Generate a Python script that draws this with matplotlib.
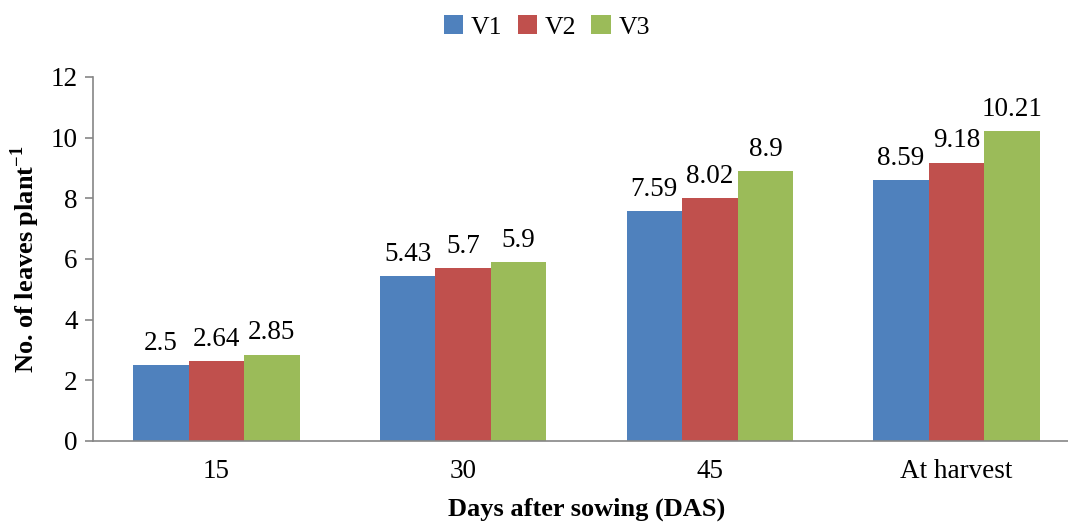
import numpy as np
import matplotlib.pyplot as plt

plt.rcParams['font.family'] = ['Liberation Serif', 'DejaVu Serif']
plt.rcParams['mathtext.fontset'] = 'custom'
plt.rcParams['mathtext.rm'] = 'Liberation Serif'
plt.rcParams['mathtext.bf'] = 'Liberation Serif:bold'

# 資料
stages = ['15', '30', '45', 'At harvest']
v1 = [2.5, 5.43, 7.59, 8.59]
v2 = [2.64, 5.7, 8.02, 9.18]
v3 = [2.85, 5.9, 8.9, 10.21]
series_names = ['V1', 'V2', 'V3']
colors = ['#4F81BD', '#C0504D', '#9BBB59']

fig = plt.figure(figsize=(10.68, 5.24), dpi=100)
ax = fig.add_axes([93/1068, 83/524, (1080-93)/1068, (441-77)/524])

x = np.arange(len(stages))
w = 0.225
for i, (vals, name, c) in enumerate(zip([v1, v2, v3], series_names, colors)):
    pos = x + (i-1)*w
    ax.bar(pos, vals, width=w, color=c, label=name)
    for p, v in zip(pos, vals):
        ax.text(p, v + 0.3, f'{v:g}', ha='center', va='bottom', fontsize=19.5)

ax.set_xlim(-0.5, 3.5)
ax.set_ylim(0, 12)
ax.set_yticks(range(0, 13, 2))
ax.set_xticks(x)
ax.set_xticklabels(stages)
ax.tick_params(axis='both', labelsize=19.5, colors='black')
ax.tick_params(axis='y', length=6, color='#868686', width=1.2, pad=5)
ax.tick_params(axis='x', length=0, pad=13)
for s in ['top', 'right']:
    ax.spines[s].set_visible(False)
for s in ['left', 'bottom']:
    ax.spines[s].set_color('#868686')
    ax.spines[s].set_linewidth(1.2)

# 上標 -1 縮小一點
ax.set_ylabel(r'No. of leaves plant$^{\mathbf{-1}}$', fontsize=19, fontweight='bold', labelpad=6)
ax.set_xlabel('Days after sowing (DAS)', fontsize=19, fontweight='bold', labelpad=10)

fig.legend(loc='upper center', bbox_to_anchor=(0.512, 1.015), ncol=3, frameon=False,
           fontsize=18.5, handlelength=0.75, handleheight=0.75, handletextpad=0.3, columnspacing=0.6)

plt.savefig('out.png', dpi=100)
